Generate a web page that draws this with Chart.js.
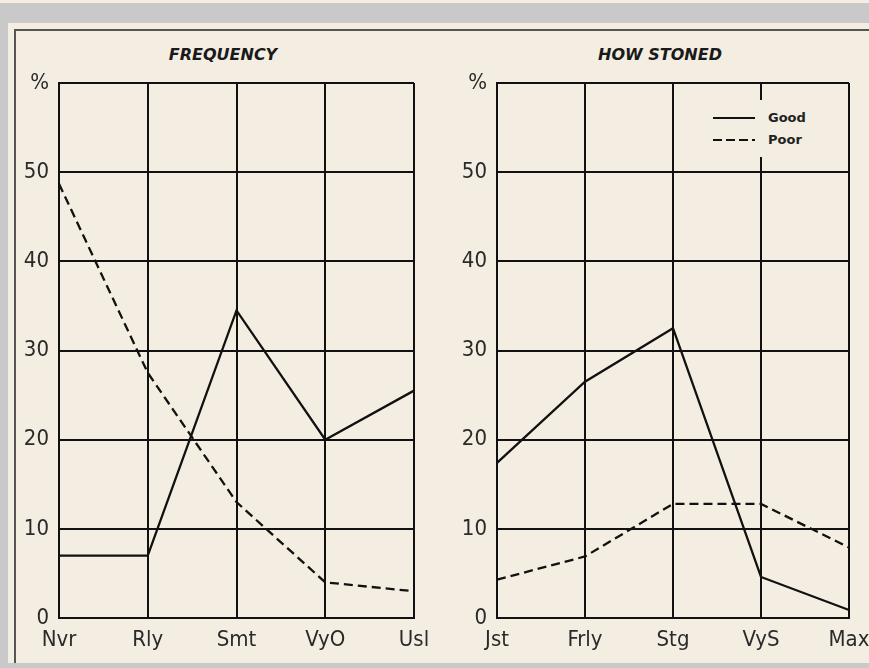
<!DOCTYPE html>
<html>
<head>
<meta charset="utf-8">
<script src="https://cdn.jsdelivr.net/npm/chart.js@4.4.1/dist/chart.umd.min.js"></script>
<style>
    body { margin: 0; width: 869px; height: 668px; background: #f4eee2; position: relative; overflow: hidden; }
    #frame { position: absolute; left: 0; top: 3px; width: 869px; height: 665px; background: #c9c9c9; }
    #panel { position: absolute; left: 8px; top: 23px; right: 0; bottom: 5px; background: #f4eee2; }
    #inner { position: absolute; left: 14px; top: 29px; right: 0; height: 634px; border-left: 2px solid #555; border-top: 2px solid #555; box-sizing: border-box; }
    .box { position: absolute; top: 29px; height: 634px; }
    .title { position: absolute; top: 45px; height: 20px; line-height: 20px; text-align: center;
             font-family: 'DejaVu Sans', sans-serif; font-weight: bold; font-style: italic; font-size: 16px; color: #1a1a1a; }
    #legend { position: absolute; left: 706px; top: 100px; width: 108px; height: 57px; background: #f4eee2;
              font-family: 'DejaVu Sans', sans-serif; font-weight: bold; font-size: 13px; color: #222; }
    .row { position: absolute; left: 7px; height: 14px; line-height: 14px; }
    .row span.ln { position: absolute; left: 0; top: 6px; width: 42px; height: 2px; }
    .row span.tx { position: absolute; left: 55px; top: 0; }
</style>
</head>
<body>
<div id="frame"></div>
<div id="panel"></div>
<div id="inner"></div>
<div class="title" style="left:123px;width:200px;">FREQUENCY</div>
<div class="title" style="left:560px;width:200px;">HOW STONED</div>
<div class="box" style="left:14px;width:426px;"><canvas id="freqChart"></canvas></div>
<div class="box" style="left:440px;width:440px;"><canvas id="stonedChart"></canvas></div>
<div id="legend">
    <div class="row" style="top:11px;"><span class="ln" style="background:#111;"></span><span class="tx">Good</span></div>
    <div class="row" style="top:33px;"><span class="ln" style="background:repeating-linear-gradient(to right,#111 0 9px,transparent 9px 13px);"></span><span class="tx">Poor</span></div>
</div>
<script>
// values (percent)
const freqLabels = ['Nvr', 'Rly', 'Smt', 'VyO', 'Usl'];
const freqGood = [7, 7, 34.5, 20, 25.5];
const freqPoor = [48.7, 27.5, 13, 4, 3];

const stonedLabels = ['Jst', 'Frly', 'Stg', 'VyS', 'Max'];
const stonedGood = [17.4, 26.5, 32.5, 4.6, 0.9];
const stonedPoor = [4.3, 6.9, 12.8, 12.8, 7.9];

const yMin = 0;
const yMax = 60;
const yStep = 10;

const tickFont = { family: "'Liberation Sans Narrow', 'DejaVu Sans Condensed', sans-serif", size: 22 };

// builds one of the two panels
function makeChart(id, labels, good, poor, padRight, yWidth) {
    const ctx = document.getElementById(id).getContext('2d');
    return new Chart(ctx, {
        type: 'line',
        data: {
            labels: labels,
            datasets: [
                { label: 'Good', data: good, borderColor: '#111', borderWidth: 2.3, pointRadius: 0, tension: 0 },
                { label: 'Poor', data: poor, borderColor: '#111', borderWidth: 2.3, borderDash: [9, 5], pointRadius: 0, tension: 0 }
            ]
        },
        options: {
            responsive: true,
            maintainAspectRatio: false,
            animation: false,
            layout: { padding: { left: 0, right: padRight, top: 54, bottom: 0 } },
            plugins: {
                legend: { display: false },
                tooltip: { enabled: false }
            },
            scales: {
                x: {
                    offset: false,
                    grid: { color: '#111', lineWidth: 2, drawTicks: false },
                    border: { color: '#111', width: 2 },
                    ticks: { color: '#2a2a2a', font: tickFont, padding: 9, maxRotation: 0, autoSkip: false },
                    afterFit: function(scale) {
                        scale.height = 45;
                        // let the end labels overhang instead of shrinking the plot
                        scale.paddingLeft = 0;
                        scale.paddingRight = 0;
                    }
                },
                y: {
                    min: yMin,
                    max: yMax,
                    grid: { color: '#111', lineWidth: 2, drawTicks: false },
                    border: { color: '#111', width: 2 },
                    ticks: {
                        stepSize: yStep,
                        color: '#2a2a2a',
                        font: tickFont,
                        padding: 10,
                        callback: function(v) { return v === yMax ? '%' : v; }
                    },
                    afterFit: function(scale) { scale.width = yWidth; }
                }
            }
        }
    });
}

makeChart('freqChart', freqLabels, freqGood, freqPoor, 26, 45);
makeChart('stonedChart', stonedLabels, stonedGood, stonedPoor, 31, 57);
</script>
</body>
</html>
